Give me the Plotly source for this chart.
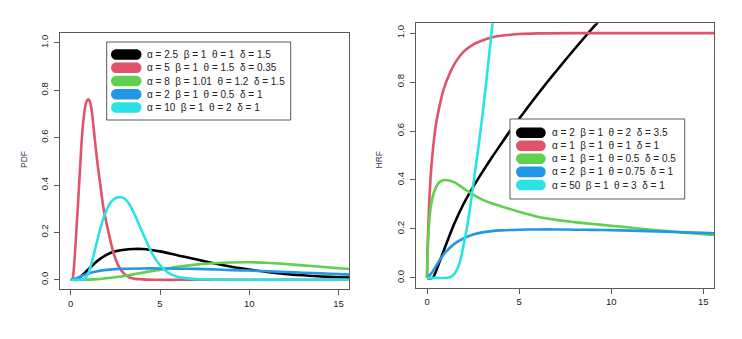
import plotly.graph_objects as go

# ---------------- data ----------------
pdf_labels = [
    "α = 2.5  β = 1  θ = 1  δ = 1.5",
    "α = 5  β = 1  θ = 1.5  δ = 0.35",
    "α = 8  β = 1.01  θ = 1.2  δ = 1.5",
    "α = 2  β = 1  θ = 0.5  δ = 1",
    "α = 10  β = 1  θ = 2  δ = 1",
]
hrf_labels = [
    "α = 2  β = 1  θ = 2  δ = 3.5",
    "α = 1  β = 1  θ = 1  δ = 1",
    "α = 1  β = 1  θ = 0.5  δ = 0.5",
    "α = 2  β = 1  θ = 0.75  δ = 1",
    "α = 50  β = 1  θ = 3  δ = 1",
]
series_colors = ["#000000", "#DF536B", "#61D04F", "#2297E6", "#28E2E5"]

x_ticks = [0, 5, 10, 15]
y_ticks = [0, 0.2, 0.4, 0.6, 0.8, 1.0]
y_tick_text = ["0.0", "0.2", "0.4", "0.6", "0.8", "1.0"]

# PDF panel
pdf_black_x = [0, 0.25, 0.5, 1.0, 1.5, 2.0, 2.5, 3.0, 3.5, 4.0, 4.5, 5.0, 6.0, 7.0, 8.0, 9.0, 10, 11, 12, 13, 14, 15, 16]
pdf_black_y = [0, 0.002, 0.01, 0.045, 0.08, 0.105, 0.12, 0.127, 0.13, 0.13, 0.126, 0.12, 0.103, 0.087, 0.070, 0.055, 0.043, 0.033, 0.025, 0.019, 0.014, 0.011, 0.008]

pdf_red_x = [0, 0.1, 0.2, 0.3, 0.4, 0.5, 0.6, 0.7, 0.8, 0.9, 1.0, 1.1, 1.2, 1.34, 1.5, 1.66, 1.8, 2.0, 2.12, 2.3, 2.5, 2.7, 3.0, 3.3, 3.6, 4.0, 5.0, 6.0, 8.0, 10, 12, 14, 16]
pdf_red_y = [0, 0.005, 0.07, 0.19, 0.31, 0.44, 0.57, 0.665, 0.725, 0.755, 0.762, 0.745, 0.70, 0.60, 0.49, 0.40, 0.32, 0.24, 0.20, 0.14, 0.09, 0.055, 0.025, 0.01, 0.004, 0.002, 0, 0, 0, 0, 0, 0, 0]

pdf_green_x = [0, 0.5, 1.0, 1.5, 2.0, 2.5, 3.0, 3.5, 4.0, 4.5, 5.0, 5.5, 6.0, 7.0, 8.0, 9.0, 10, 11, 12, 13, 14, 15, 16]
pdf_green_y = [0, 0, 0.001, 0.003, 0.007, 0.011, 0.016, 0.023, 0.030, 0.036, 0.042, 0.049, 0.055, 0.064, 0.070, 0.073, 0.074, 0.072, 0.067, 0.061, 0.055, 0.049, 0.044]

pdf_blue_x = [0, 0.25, 0.5, 0.75, 1.0, 1.5, 2.0, 2.5, 3.0, 4.0, 5.0, 6.0, 7.0, 8.0, 9.0, 10, 11, 12, 13, 14, 15, 16]
pdf_blue_y = [0, 0.005, 0.012, 0.020, 0.027, 0.036, 0.042, 0.045, 0.047, 0.048, 0.048, 0.047, 0.046, 0.044, 0.041, 0.039, 0.036, 0.033, 0.030, 0.027, 0.024, 0.021]

pdf_cyan_x = [0, 0.5, 0.8, 1.0, 1.2, 1.4, 1.6, 1.8, 2.0, 2.2, 2.4, 2.6, 2.8, 3.0, 3.2, 3.4, 3.6, 3.8, 4.0, 4.3, 4.6, 5.0, 5.5, 6.0, 7.0, 8.0, 10, 12, 14, 16]
pdf_cyan_y = [0, 0, 0.005, 0.03, 0.08, 0.14, 0.20, 0.253, 0.293, 0.322, 0.339, 0.347, 0.348, 0.343, 0.328, 0.303, 0.272, 0.238, 0.203, 0.152, 0.105, 0.062, 0.028, 0.012, 0.003, 0.001, 0, 0, 0, 0]

# HRF panel
hrf_black_x = [0, 0.3, 0.5, 0.75, 1.0, 1.5, 2.0, 2.5, 3.0, 3.5, 4.0, 4.5, 5.0, 5.5, 6.0, 6.5, 7.0, 7.5, 8.0, 8.5, 9.0, 9.5, 10.0]
hrf_black_y = [0, 0, 0.03, 0.08, 0.13, 0.225, 0.305, 0.371, 0.432, 0.49, 0.545, 0.60, 0.65, 0.70, 0.749, 0.797, 0.843, 0.889, 0.934, 0.978, 1.021, 1.063, 1.105]

hrf_red_x = [0, 0.02, 0.05, 0.1, 0.2, 0.3, 0.4, 0.5, 0.7, 0.9, 1.2, 1.5, 2.0, 2.5, 3.0, 3.5, 4.0, 5.0, 6.0, 8.0, 10, 12, 14, 16]
hrf_red_y = [0, 0.10, 0.17, 0.28, 0.42, 0.51, 0.58, 0.635, 0.71, 0.77, 0.83, 0.875, 0.925, 0.953, 0.970, 0.982, 0.989, 0.996, 0.999, 1.0, 1.0, 1.0, 1.0, 1.0]

hrf_green_x = [0, 0.02, 0.05, 0.1, 0.2, 0.4, 0.6, 0.8, 1.0, 1.2, 1.5, 2.0, 2.5, 3.0, 3.5, 4.0, 5.0, 6.0, 7.0, 8.0, 9.0, 10, 11, 12, 13, 14, 15, 16]
hrf_green_y = [0, 0.08, 0.14, 0.21, 0.29, 0.355, 0.385, 0.397, 0.40, 0.398, 0.39, 0.365, 0.34, 0.32, 0.305, 0.293, 0.27, 0.25, 0.237, 0.228, 0.22, 0.213, 0.206, 0.198, 0.191, 0.185, 0.179, 0.175]

hrf_blue_x = [0, 0.25, 0.5, 0.75, 1.0, 1.5, 2.0, 2.5, 3.0, 3.5, 4.0, 5.0, 6.0, 7.0, 8.0, 9.0, 10, 11, 12, 13, 14, 15, 16]
hrf_blue_y = [0, 0.02, 0.05, 0.08, 0.105, 0.14, 0.162, 0.177, 0.186, 0.191, 0.194, 0.197, 0.198, 0.198, 0.197, 0.196, 0.195, 0.193, 0.191, 0.189, 0.186, 0.184, 0.181]

hrf_cyan_x = [0, 0.5, 1.0, 1.2, 1.4, 1.6, 1.8, 2.0, 2.2, 2.4, 2.6, 2.8, 3.0, 3.2, 3.4, 3.6, 3.8]
hrf_cyan_y = [0, 0, 0, 0.002, 0.01, 0.03, 0.07, 0.14, 0.22, 0.32, 0.43, 0.54, 0.66, 0.79, 0.93, 1.07, 1.20]

pdf_series = [(pdf_black_x, pdf_black_y), (pdf_red_x, pdf_red_y), (pdf_green_x, pdf_green_y),
              (pdf_blue_x, pdf_blue_y), (pdf_cyan_x, pdf_cyan_y)]
hrf_series = [(hrf_black_x, hrf_black_y), (hrf_red_x, hrf_red_y), (hrf_green_x, hrf_green_y),
              (hrf_blue_x, hrf_blue_y), (hrf_cyan_x, hrf_cyan_y)]

# ---------------- figure ----------------
OFF = 8                      # default page margin of the HTML body
W, H = 742 - OFF, 339 - OFF
FONT = "Liberation Sans, Arial, Helvetica, sans-serif"
FRAME = "#5a5a5a"


def px(x):
    return (x - OFF) / W


def py(y):
    return 1 - (y - OFF) / H


fig = go.Figure()

for (xs, ys), c in zip(pdf_series, series_colors):
    fig.add_trace(go.Scatter(x=xs, y=ys, mode="lines", xaxis="x", yaxis="y",
                             line=dict(color=c, width=2.6, shape="spline", smoothing=0.7),
                             showlegend=False, hoverinfo="skip"))
for (xs, ys), c in zip(hrf_series, series_colors):
    fig.add_trace(go.Scatter(x=xs, y=ys, mode="lines", xaxis="x2", yaxis="y2",
                             line=dict(color=c, width=2.6, shape="spline", smoothing=0.7),
                             showlegend=False, hoverinfo="skip"))

axis_common = dict(showgrid=False, zeroline=False, showline=True, mirror=True,
                   linecolor=FRAME, linewidth=1, ticks="outside", ticklen=5,
                   tickcolor=FRAME, tickwidth=1,
                   tickfont=dict(family=FONT, size=9.5, color="#222222"))

xa = dict(axis_common, range=[-0.6, 15.6], tickvals=x_ticks, ticktext=[str(v) for v in x_ticks])
ya = dict(axis_common, range=[-0.04, 1.04], tickvals=y_ticks, ticktext=y_tick_text,
          tickangle=-90, ticklabelstandoff=2)

fig.update_layout(
    width=W, height=H,
    margin=dict(l=0, r=0, t=0, b=0),
    paper_bgcolor="white", plot_bgcolor="white",
    showlegend=False,
    xaxis=dict(xa, domain=[px(60), px(349.3)], anchor="y"),
    yaxis=dict(ya, domain=[py(289.3), py(33.3)], anchor="x"),
    xaxis2=dict(xa, domain=[px(416), px(714.3)], anchor="y2"),
    yaxis2=dict(ya, domain=[py(287.7), py(23.3)], anchor="x2"),
)

# axis titles
for txt, xx in [("PDF", 24), ("HRF", 378.5)]:
    fig.add_annotation(text=txt, x=px(xx), y=py(160), xref="paper", yref="paper",
                       xanchor="center", yanchor="middle",
                       showarrow=False, textangle=-90,
                       font=dict(family=FONT, size=8.5, color="#34405a"))


def pill(x0, x1, yc, r):
    k = 0.5523 * r

    def P(x, y):
        return f"{px(x):.6f},{py(y):.6f}"
    return ("M " + P(x0 + r, yc + r) + " L " + P(x1 - r, yc + r) +
            " C " + P(x1 - r + k, yc + r) + " " + P(x1, yc + k) + " " + P(x1, yc) +
            " C " + P(x1, yc - k) + " " + P(x1 - r + k, yc - r) + " " + P(x1 - r, yc - r) +
            " L " + P(x0 + r, yc - r) +
            " C " + P(x0 + r - k, yc - r) + " " + P(x0, yc - k) + " " + P(x0, yc) +
            " C " + P(x0, yc + k) + " " + P(x0 + r - k, yc + r) + " " + P(x0 + r, yc + r) + " Z")


def legend(box, sym_x0, sym_x1, text_x, rows, labels):
    bx0, bx1, by0, by1 = box
    fig.add_shape(type="rect", xref="paper", yref="paper",
                  x0=px(bx0), x1=px(bx1), y0=py(by1), y1=py(by0),
                  line=dict(color=FRAME, width=1), fillcolor="white", layer="above")
    for yc, lab, c in zip(rows, labels, series_colors):
        fig.add_shape(type="path", xref="paper", yref="paper",
                      path=pill(sym_x0, sym_x1, yc, 5.3),
                      fillcolor=c, line=dict(width=0, color=c), layer="above")
        fig.add_annotation(text=lab, x=px(text_x), y=py(yc), xref="paper", yref="paper",
                           xanchor="left", yanchor="middle", showarrow=False,
                           font=dict(family=FONT, size=10, color="#222222"))


legend((106.7, 290.7, 42, 120), 111, 141.5, 145, [54.5, 67.75, 81, 94.25, 107.5], pdf_labels)
legend((510, 684.7, 119, 199), 516, 545.7, 549.5, [132.7, 145.8, 158.8, 171.9, 185], hrf_labels)

fig.write_html("out.html")
